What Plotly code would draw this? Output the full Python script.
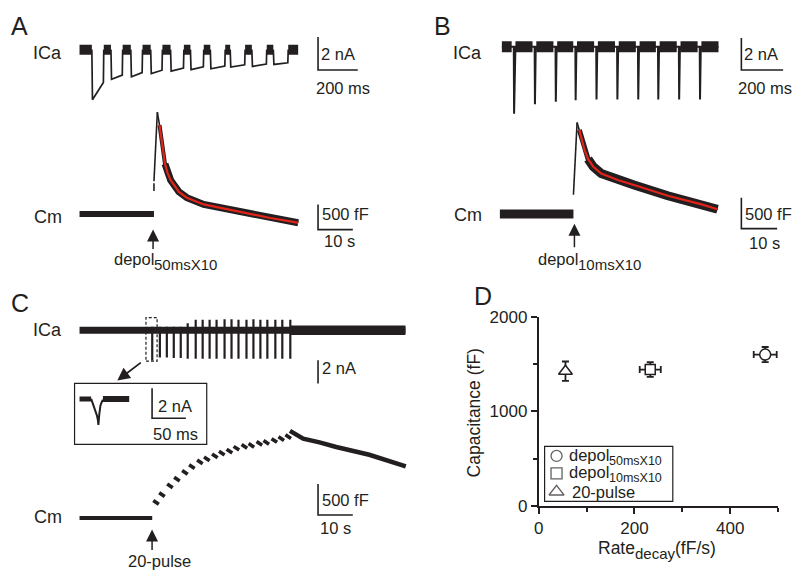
import plotly.graph_objects as go

W, H = 800, 584
FONT = "Liberation Sans, Arial, Helvetica, sans-serif"
INK = "#231f20"
RED = "#e2231a"

# ======================= DATA =======================
# Panel A - ICa during 10 x 50 ms depolarisations (time ms, current nA)
A_ICA_ON_MS = [62, 158, 258, 358, 458, 558, 658, 758, 867, 975]
A_ICA_OFF_MS = [122, 217, 317, 417, 525, 625, 733, 833, 942, 1050]
A_ICA_PEAK_NA = [-3.05, -1.8, -1.65, -1.45, -1.31, -1.22, -1.16, -1.06, -1.02, -0.9]
A_ICA_LATE_NA = [-2.0, -1.55, -1.4, -1.25, -1.12, -1.05, -1.0, -0.92, -0.88, -0.8]
A_ICA_END_MS = 1100

# Panel A - Cm (time s, capacitance change fF)
A_CM_BASE_S = [0.0, 21.4]
A_CM_BASE_FF = [0, 0]
A_CM_GAP_S = [21.4, 21.4]
A_CM_GAP_FF = [460, 615]
A_CM_RISE_S = [21.4, 22.37]
A_CM_RISE_FF = [654, 2025]
A_CM_DECAY_S = [22.37, 23.0, 23.71, 24.57, 25.3, 26.2, 28.57, 30.86, 35.71, 45.14, 54.86, 61.43, 62.86]
A_CM_DECAY_FF = [2025, 1769, 1385, 1000, 820, 673, 442, 327, 192, 58, -77, -154, -173]

# Panel B - ICa during 10 x 10 ms depolarisations
B_ICA_SPIKE_MS = [57, 157, 257, 352, 452, 552, 652, 748, 848, 948]
B_ICA_PEAK_NA = [-4.2, -3.6, -3.45, -3.35, -3.3, -3.3, -3.3, -3.3, -3.3, -3.3]
B_ICA_END_MS = 1038

# Panel B - Cm
B_CM_BASE_S = [0.0, 20.56]
B_CM_BASE_FF = [0, 0]
B_CM_RISE_S = [20.56, 21.58]
B_CM_RISE_FF = [312, 1480]
B_CM_DECAY_S = [21.58, 22.22, 22.78, 23.61, 24.64, 26.11, 28.33, 32.97, 37.5, 46.94, 56.11, 60.83]
B_CM_DECAY_FF = [1480, 1359, 1234, 1047, 891, 766, 656, 552, 469, 297, 161, 78]

# Panel C - ICa, 20-pulse train (time s, current nA)
C_ICA_SPIKE_S = [20.9, 23.1, 25.1, 27.1, 29.1, 31.1, 33.4, 35.4, 37.4, 39.4,
                 41.7, 43.7, 45.7, 48.0, 50.0, 52.0, 54.0, 56.3, 58.3, 60.6]
C_ICA_SPIKE_MIN_NA = [-2.6, -2.35, -2.35, -2.4, -2.4, -2.45, -2.45, -2.45, -2.45, -2.45,
                      -2.45, -2.45, -2.45, -2.45, -2.45, -2.45, -2.45, -2.45, -2.45, -2.45]
C_ICA_SPIKE_MAX_NA = [0.3, 0.3, 0.3, 0.3, 0.3, 0.6, 0.9, 0.9, 0.9, 0.9,
                      0.95, 0.95, 0.9, 0.9, 0.95, 0.9, 0.9, 0.9, 0.9, 0.9]
C_ICA_END_S = 93.7
C_ZOOM_WIN_S = [19.1, 22.3]
C_ZOOM_WIN_NA = [-2.67, 1.08]

# Panel C - inset: first pulse (time ms, current nA)
C_IN_PRE_MS = [0.0, 17.2]
C_IN_POST_MS = [34.6, 73.5]
C_IN_T_MS = [17.2, 19.9, 22.8, 25.7, 27.2, 27.9, 29.4, 30.9, 33.1, 34.6]
C_IN_I_NA = [0, -0.32, -0.71, -1.1, -1.42, -1.74, -0.97, -0.45, -0.19, -0.06]

# Panel C - Cm
C_CM_BASE_S = [0.0, 20.9]
C_CM_BASE_FF = [0, 0]
C_CM_DASH_S = [22.0, 23.7, 26.0, 28.0, 30.3, 32.3, 34.6, 36.6, 38.9, 40.9,
               43.1, 45.1, 47.4, 49.4, 51.7, 53.7, 56.0, 58.0, 60.0]
C_CM_DASH_FF = [250, 375, 516, 625, 734, 828, 906, 953, 1000, 1047,
                1078, 1125, 1156, 1172, 1203, 1219, 1250, 1281, 1313]
C_CM_DASH_DUR_S = 1.6
C_CM_DASH_DROP_FF = 60
C_CM_DECAY_S = [60.5, 64.3, 69.0, 73.8, 83.3, 93.8]
C_CM_DECAY_FF = [1406, 1281, 1219, 1145, 1020, 833]

# Panel D - summary
D_NAMES = ["depol50msX10", "depol10msX10", "20-pulse"]
D_LEG_MAIN = ["depol", "depol", "20-pulse"]
D_LEG_SUB = ["50msX10", "10msX10", ""]
D_RATE = [473, 233, 56]
D_RATE_ERR = [24, 22, 0]
D_CAP = [1600, 1442, 1425]
D_CAP_ERR = [80, 77, 102]
D_X_TICKS = [0, 200, 400]
D_Y_TICKS = [0, 1000, 2000]

# Scale bars (x length, y length, labels)
SB_A_ICA = (200, 2, "200 ms", "2 nA")
SB_A_CM = (10, 500, "10 s", "500 fF")
SB_B_ICA = (200, 2, "200 ms", "2 nA")
SB_B_CM = (10, 500, "10 s", "500 fF")
SB_C_ICA = (0, 2, "", "2 nA")
SB_C_IN = (50, 2, "50 ms", "2 nA")
SB_C_CM = (10, 500, "10 s", "500 fF")

# ======================= LAYOUT GEOMETRY (pixels) =======================
GEOM = {
    "a_ica": dict(box=(68, 372, 22, 104), origin=(75, 42), ppu=(0.2, 17)),
    "a_cm": dict(box=(68, 372, 100, 236), origin=(75, 212), ppu=(3.5, 0.052)),
    "b_ica": dict(box=(492, 800, 22, 116), origin=(500, 39), ppu=(0.21, 16.5)),
    "b_cm": dict(box=(492, 800, 108, 236), origin=(498, 212), ppu=(3.6, 0.064)),
    "c_ica": dict(box=(68, 412, 312, 392), origin=(75, 332), ppu=(3.5, 12)),
    "c_in": dict(box=(71, 202, 388, 449), origin=(75, 403), ppu=(0.68, 15.5)),
    "c_cm": dict(box=(68, 412, 425, 546), origin=(75, 526), ppu=(3.5, 0.064)),
}
SB_CORNER = {"a_ica": (315, 63), "a_cm": (315, 228), "b_ica": (741, 63), "b_cm": (741, 227),
             "c_ica": (315, 387), "c_in": (148, 423), "c_cm": (315, 523)}
D_BOX = (537, 778, 318, 514)
LEG_BOX = (543, 672, 452, 509)
LEG_KEY_X = 555
LEG_TEXT_X = 568
LEG_ROW_Y = [462, 480, 499]

fig = go.Figure()
axes = {}
lay = {}
for i, (key, g) in enumerate(GEOM.items(), start=1):
    X0, X1, Y0, Y1 = g["box"]
    ox, oy = g["origin"]
    sx, sy = g["ppu"]
    sfx = "" if i == 1 else str(i)
    lay["xaxis" + sfx] = dict(domain=[X0 / W, X1 / W], range=[(X0 - ox) / sx, (X1 - ox) / sx],
                              visible=False, fixedrange=True, anchor="y" + sfx)
    lay["yaxis" + sfx] = dict(domain=[1 - Y1 / H, 1 - Y0 / H], range=[(oy - Y1) / sy, (oy - Y0) / sy],
                              visible=False, fixedrange=True, anchor="x" + sfx)
    axes[key] = ("x" + sfx, "y" + sfx)


def to_data(key, px, py):
    g = GEOM[key]
    return (px - g["origin"][0]) / g["ppu"][0], (g["origin"][1] - py) / g["ppu"][1]


def line(key, xs, ys, width, color=INK):
    xa, ya = axes[key]
    fig.add_trace(go.Scatter(x=xs, y=ys, xaxis=xa, yaxis=ya, mode="lines",
                             line=dict(color=color, width=width),
                             hoverinfo="skip", showlegend=False))


def scalebar(key, sb):
    xl, yl, _, _ = sb
    cx, cy = to_data(key, *SB_CORNER[key])
    if xl:
        line(key, [cx, cx, cx + xl], [cy + yl, cy, cy], 1.6)
    else:
        line(key, [cx, cx], [cy + yl, cy], 1.6)


# ---- Panel A ICa ----
bx, by = [], []
for s, e in zip([0] + A_ICA_OFF_MS, A_ICA_ON_MS + [A_ICA_END_MS]):
    bx += [s, e, None]; by += [0, 0, None]
tx, ty = [], []
for on, off, pk, lt in zip(A_ICA_ON_MS, A_ICA_OFF_MS, A_ICA_PEAK_NA, A_ICA_LATE_NA):
    tx += [on, on + 3, off - 2, off, None]; ty += [0, pk, lt, 0, None]
line("a_ica", tx, ty, 1.7)
line("a_ica", bx, by, 10)
scalebar("a_ica", SB_A_ICA)

# ---- Panel A Cm ----
line("a_cm", A_CM_BASE_S, A_CM_BASE_FF, 6)
line("a_cm", A_CM_GAP_S, A_CM_GAP_FF, 1.6)
line("a_cm", A_CM_RISE_S, A_CM_RISE_FF, 1.6)
line("a_cm", A_CM_DECAY_S, A_CM_DECAY_FF, 1.6)
line("a_cm", A_CM_DECAY_S[1:], A_CM_DECAY_FF[1:], 4)
line("a_cm", A_CM_DECAY_S[3:], A_CM_DECAY_FF[3:], 7)
line("a_cm", A_CM_DECAY_S[1:], A_CM_DECAY_FF[1:], 2.2, RED)
scalebar("a_cm", SB_A_CM)

# ---- Panel B ICa ----
bx, by = [], []
for s, e in zip([0] + [t + 8 for t in B_ICA_SPIKE_MS], [t - 10 for t in B_ICA_SPIKE_MS] + [B_ICA_END_MS]):
    bx += [s, e, None]; by += [0, 0, None]
tx, ty = [0], [0]
for t, pk in zip(B_ICA_SPIKE_MS, B_ICA_PEAK_NA):
    tx += [t, t + 1.5, t + 5, t + 8]; ty += [0, pk, -0.25, 0]
tx += [B_ICA_END_MS]; ty += [0]
line("b_ica", tx, ty, 2.0)
line("b_ica", bx, by, 11)
scalebar("b_ica", SB_B_ICA)

# ---- Panel B Cm ----
line("b_cm", B_CM_BASE_S, B_CM_BASE_FF, 9)
line("b_cm", B_CM_RISE_S, B_CM_RISE_FF, 1.6)
line("b_cm", B_CM_DECAY_S, B_CM_DECAY_FF, 1.6)
line("b_cm", B_CM_DECAY_S[1:], B_CM_DECAY_FF[1:], 5)
line("b_cm", B_CM_DECAY_S[4:], B_CM_DECAY_FF[4:], 9)
line("b_cm", B_CM_DECAY_S[1:], B_CM_DECAY_FF[1:], 2.2, RED)
scalebar("b_cm", SB_B_CM)

# ---- Panel C ICa ----
line("c_ica", [0, C_ICA_END_S], [0, 0], 7)
line("c_ica", [C_ICA_SPIKE_S[-1], C_ICA_END_S], [0, 0], 9.5)
sx_, sy_ = [], []
for t, lo, hi in zip(C_ICA_SPIKE_S, C_ICA_SPIKE_MIN_NA, C_ICA_SPIKE_MAX_NA):
    sx_ += [t, t, None]; sy_ += [hi, lo, None]
line("c_ica", sx_, sy_, 2.2)
scalebar("c_ica", SB_C_ICA)
xa, ya = axes["c_ica"]
fig.add_shape(type="rect", xref=xa, yref=ya, x0=C_ZOOM_WIN_S[0], x1=C_ZOOM_WIN_S[1],
              y0=C_ZOOM_WIN_NA[0], y1=C_ZOOM_WIN_NA[1],
              line=dict(color=INK, width=1.2, dash="3px,2px"))

# ---- Panel C inset ----
line("c_in", C_IN_PRE_MS, [0, 0], 5)
line("c_in", C_IN_POST_MS, [0, 0], 6)
line("c_in", C_IN_T_MS, C_IN_I_NA, 2)
scalebar("c_in", SB_C_IN)
fig.add_shape(type="rect", xref="paper", yref="paper", x0=70 / W, x1=203 / W,
              y0=1 - 450 / H, y1=1 - 387 / H, line=dict(color=INK, width=1.2))

# ---- Panel C Cm ----
line("c_cm", C_CM_BASE_S, C_CM_BASE_FF, 4)
dx, dy = [], []
for t, c in zip(C_CM_DASH_S, C_CM_DASH_FF):
    dx += [t - C_CM_DASH_DUR_S / 2, t + C_CM_DASH_DUR_S / 2, None]
    dy += [c + C_CM_DASH_DROP_FF / 2, c - C_CM_DASH_DROP_FF / 2, None]
line("c_cm", dx, dy, 3.6)
line("c_cm", C_CM_DECAY_S, C_CM_DECAY_FF, 4.5)
scalebar("c_cm", SB_C_CM)

# ---- Panel D ----
symbols = ["circle", "square", "triangle-up"]
sizes = [11, 10, 12]
for n, x, xe, y, ye, sym, sz in zip(D_NAMES, D_RATE, D_RATE_ERR, D_CAP, D_CAP_ERR, symbols, sizes):
    fig.add_trace(go.Scatter(
        x=[x], y=[y], xaxis="x8", yaxis="y8", mode="markers", name=n, showlegend=False,
        marker=dict(symbol=sym, size=sz, color="white", line=dict(color=INK, width=1.5)),
        error_x=dict(type="data", array=[xe], visible=xe > 0, color=INK, thickness=1.8, width=3.5),
        error_y=dict(type="data", array=[ye], color=INK, thickness=1.8, width=3.5),
        hoverinfo="skip", cliponaxis=False))

X0, X1, Y0, Y1 = D_BOX
axis_common = dict(showline=True, linecolor=INK, linewidth=1.6, ticks="outside", ticklen=6,
                   tickwidth=1.6, tickcolor=INK, showgrid=False, zeroline=False, fixedrange=True,
                   tickfont=dict(family=FONT, size=17, color=INK))
lay["xaxis8"] = dict(domain=[X0 / W, X1 / W], range=[0, 500], anchor="y8",
                     tickvals=D_X_TICKS, ticktext=[str(v) for v in D_X_TICKS],
                     minor=dict(tickvals=[100, 300, 500], ticklen=4, tickwidth=1.6, tickcolor=INK, ticks="outside"),
                     **axis_common)
lay["yaxis8"] = dict(domain=[1 - Y1 / H, 1 - Y0 / H], range=[0, 2000], anchor="x8",
                     tickvals=D_Y_TICKS, ticktext=[str(v) for v in D_Y_TICKS],
                     minor=dict(tickvals=[500, 1500], ticklen=4, tickwidth=1.6, tickcolor=INK, ticks="outside"),
                     **axis_common)

# ---- legend of panel D (drawn on a pixel overlay axis) ----
lay["xaxis9"] = dict(domain=[0, 1], range=[0, W], visible=False, fixedrange=True, anchor="y9")
lay["yaxis9"] = dict(domain=[0, 1], range=[H, 0], visible=False, fixedrange=True, anchor="x9")
fig.add_trace(go.Scatter(
    x=[LEG_KEY_X] * len(symbols), y=LEG_ROW_Y, xaxis="x9", yaxis="y9", mode="markers",
    marker=dict(symbol=symbols, size=[11, 11, 13], color="white", line=dict(color=INK, width=1.3)),
    hoverinfo="skip", showlegend=False, cliponaxis=False))
fig.add_shape(type="rect", xref="paper", yref="paper", x0=LEG_BOX[0] / W, x1=LEG_BOX[1] / W,
              y0=1 - LEG_BOX[3] / H, y1=1 - LEG_BOX[2] / H, line=dict(color=INK, width=1.2))

# ---- texts ----
ann = []


def txt(s, x, y, size=17, xa="center", ya="middle", angle=0):
    ann.append(dict(text=s, x=x / W, y=1 - y / H, xref="paper", yref="paper", showarrow=False,
                    xanchor=xa, yanchor=ya, textangle=angle, borderpad=0, borderwidth=0,
                    font=dict(family=FONT, size=size, color=INK)))


def arrow(tipx, tipy, ax, ay, w=1.5, size=1.6):
    ann.append(dict(text="", x=tipx / W, y=1 - tipy / H, xref="paper", yref="paper",
                    showarrow=True, ax=ax, ay=ay, arrowhead=2, arrowsize=size, arrowwidth=w,
                    arrowcolor=INK))


txt("A", 15, 18, 25)
txt("B", 440, 18, 25)
txt("C", 15, 304, 25)
txt("D", 481, 297, 25)
txt("ICa", 43, 45, 18)
txt("Cm", 43, 215, 18)
txt("ICa", 465, 45, 18)
txt("Cm", 466, 213, 18)
txt("ICa", 43, 332, 18)
txt("Cm", 43, 525, 18)

txt(SB_A_ICA[3], 318, 47, 16.5, xa="left")
txt(SB_A_ICA[2], 340, 82, 16.5)
txt(SB_A_CM[3], 319, 212, 16.5, xa="left")
txt(SB_A_CM[2], 337, 240, 16.5)
txt(SB_B_ICA[3], 744, 47, 16.5, xa="left")
txt(SB_B_ICA[2], 765, 82, 16.5)
txt(SB_B_CM[3], 745, 212, 16.5, xa="left")
txt(SB_B_CM[2], 764, 242, 16.5)
txt(SB_C_ICA[3], 319, 371, 16.5, xa="left")
txt(SB_C_IN[3], 154, 410, 16.5, xa="left")
txt(SB_C_IN[2], 172, 439, 16.5)
txt(SB_C_CM[3], 319, 507, 16.5, xa="left")
txt(SB_C_CM[2], 333, 536, 16.5)

# stimulus labels (main text + subscript)
txt("depol", 150, 258, 16.5, xa="right")
txt("50msX10", 150, 264, 15, xa="left")
txt("depol", 577, 258, 16.5, xa="right")
txt("10msX10", 577, 264, 15, xa="left")
txt("20-pulse", 155, 571, 16.5)
arrow(149, 228, 0, 21)
arrow(573, 222, 0, 25)
arrow(148, 538, 0, 22)
arrow(113, 384, 25, -19, w=1.8, size=1.4)

# legend texts
for main, sub, y in zip(D_LEG_MAIN, D_LEG_SUB, LEG_ROW_Y):
    if sub:
        txt(main, LEG_TEXT_X, y - 1, 16.5, xa="left")
        txt(sub, LEG_TEXT_X + 40, y + 5, 12.5, xa="left")
    else:
        txt(main, LEG_TEXT_X + 3, y, 16.5, xa="left")

# axis titles of D
txt("Capacitance (fF)", 472, 418, 17.5, angle=-90)
txt("Rate", 634, 557, 17.5, xa="right")
txt("decay", 634, 563, 15, xa="left")
txt("(fF/s)", 674, 557, 17.5, xa="left")

fig.update_layout(
    width=W, height=H, margin=dict(l=0, r=0, t=0, b=0),
    paper_bgcolor="white", plot_bgcolor="rgba(0,0,0,0)",
    font=dict(family=FONT, color=INK),
    showlegend=False,
    annotations=ann,
    **lay,
)
fig.write_html("out.html", config={"displayModeBar": False},
               post_script="document.body.style.margin='0px';document.body.style.overflow='hidden';")
